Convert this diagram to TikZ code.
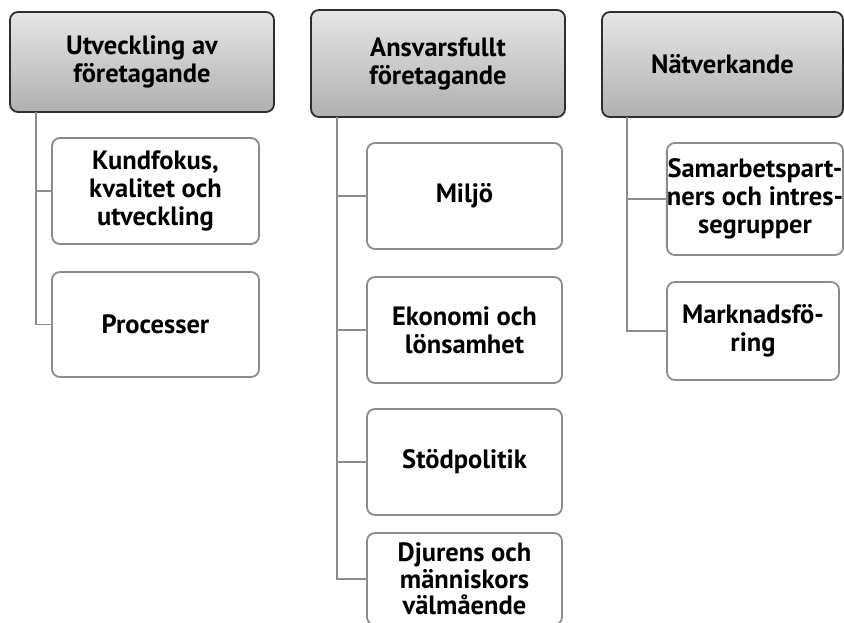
\documentclass[tikz,border=0pt]{standalone}
\usepackage{fontspec}
\setmainfont{PT Sans}
\usetikzlibrary{positioning}
\definecolor{headtop}{HTML}{E6E6E6}
\definecolor{headbot}{HTML}{B0B0B0}
\definecolor{headline}{HTML}{2E2E2E}
\definecolor{boxline}{HTML}{8C8C8C}
\tikzset{x=1pt, y=-1pt}
\tikzset{head/.style={draw=headline, line width=1.8pt, rounded corners=8pt,
    top color=headtop, bottom color=headbot, align=center, inner sep=0pt}}
\tikzset{item/.style={draw=boxline, line width=1.8pt, rounded corners=8pt,
    fill=white, align=center, inner sep=0pt}}
\tikzset{link/.style={draw=boxline, line width=1.8pt}}

\begin{document}
\begin{tikzpicture}
		\useasboundingbox[fill=white] (0,0) rectangle (844,622);
		\begin{scope}[every node/.append style={font=\fontsize{26.5}{28}\bfseries\selectfont}]
			\node[head, minimum width=264pt, minimum height=100pt] (u) at (142, 62) {Utveckling av\\företagande};
			\node[head, minimum width=254pt, minimum height=107pt] (a) at (438, 63.5) {Ansvarsfullt\\företagande};
			\node[head, minimum width=241pt, minimum height=105pt] (n) at (722.5, 64.5) {Nätverkande};

			\node[item, minimum width=207pt, minimum height=106pt] (u1) at (155.5, 191) {Kundfokus,\\kvalitet och\\utveckling};
			\node[item, minimum width=207pt, minimum height=105pt] (u2) at (155.5, 324.5) {Processer};

			\node[item, minimum width=195pt, minimum height=106pt] (a1) at (464.5, 196) {Miljö};
			\node[item, minimum width=195pt, minimum height=106pt] (a2) at (464.5, 330) {Ekonomi och\\lönsamhet};
			\node[item, minimum width=195pt, minimum height=106pt] (a3) at (464.5, 462) {Stödpolitik};
			\node[item, minimum width=195pt, minimum height=92pt,
				font=\fontsize{26.5}{26.5}\bfseries\selectfont] (a4) at (464.5, 579) {Djurens och\\människors\\välmående};

			\node[item, minimum width=176pt, minimum height=112pt] (n1) at (755, 199) {Samarbetspart-\\ners och intres-\\segrupper};
			\node[item, minimum width=172pt, minimum height=98pt] (n2) at (753, 331) {Marknadsfö-\\ring};
		\end{scope}

		\coordinate (u0) at (36, 112);
		\coordinate (a0) at (337, 117);
		\coordinate (n0) at (627, 117);

		\draw[link] (u0) |- (u1.west);
		\draw[link] (u0) |- (u2.west);
		\draw[link] (a0) |- (a1.west);
		\draw[link] (a0) |- (a2.west);
		\draw[link] (a0) |- (a3.west);
		\draw[link] (a0) |- (a4.west);
		\draw[link] (n0) |- (n1.west);
		\draw[link] (n0) |- (n2.west);
	\end{tikzpicture}
\end{document}
